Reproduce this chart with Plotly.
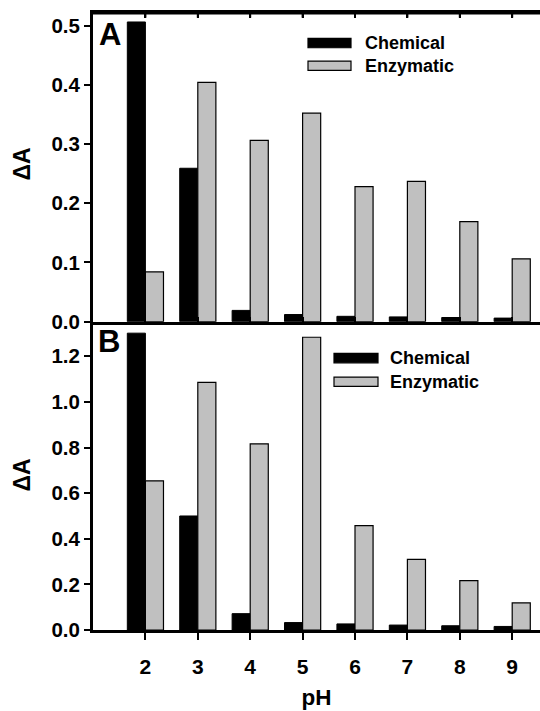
import plotly.graph_objects as go

ph = [2, 3, 4, 5, 6, 7, 8, 9]
a_chemical = [0.506, 0.259, 0.019, 0.012, 0.009, 0.008, 0.007, 0.006]
a_enzymatic = [0.084, 0.404, 0.306, 0.352, 0.228, 0.237, 0.169, 0.106]
b_chemical = [1.301, 0.500, 0.072, 0.033, 0.027, 0.022, 0.019, 0.016]
b_enzymatic = [0.654, 1.085, 0.816, 1.283, 0.458, 0.310, 0.217, 0.119]
a_ticks = [0.0, 0.1, 0.2, 0.3, 0.4, 0.5]
b_ticks = [0.0, 0.2, 0.4, 0.6, 0.8, 1.0, 1.2]

W, H = 540, 711
FONT = "Liberation Sans, Arial, sans-serif"
BLACK = "#000000"
GRAY = "#c0c0c0"

fig = go.Figure()

def add_bars(xa, ya, chem, enz):
    fig.add_trace(go.Bar(x=ph, y=chem, name="Chemical", xaxis=xa, yaxis=ya,
                         marker=dict(color=BLACK, line=dict(color=BLACK, width=1)),
                         showlegend=False, offsetgroup="c"))
    fig.add_trace(go.Bar(x=ph, y=enz, name="Enzymatic", xaxis=xa, yaxis=ya,
                         marker=dict(color=GRAY, line=dict(color=BLACK, width=1.2)),
                         showlegend=False, offsetgroup="e"))

add_bars("x", "y", a_chemical, a_enzymatic)
add_bars("x2", "y2", b_chemical, b_enzymatic)

x0 = 93 / W
xrange = [1, 1 + (W - 93) / 52.4]

def py(px):
    return (H - px) / H

ytickfont = dict(family=FONT, size=20.5, color=BLACK, weight="bold")
xtickfont = dict(family=FONT, size=21, color=BLACK, weight="bold")

common_x = dict(range=xrange, domain=[x0, 1], showgrid=False, zeroline=False,
                showline=True, linecolor=BLACK, linewidth=3, tickvals=ph,
                tickcolor=BLACK, tickwidth=2)
common_y = dict(showgrid=False, zeroline=False, showline=True, linecolor=BLACK,
                linewidth=3, ticks="outside", ticklen=6, tickwidth=2,
                tickcolor=BLACK, tickfont=ytickfont, tickformat=".1f")

fig.update_layout(
    width=W, height=H,
    margin=dict(l=0, r=0, t=0, b=0),
    paper_bgcolor="white", plot_bgcolor="white",
    barmode="group", bargap=0.31, bargroupgap=0,
    xaxis=dict(**common_x, anchor="y", mirror="ticks", ticks="inside", ticklen=5,
               showticklabels=False),
    yaxis=dict(**common_y, domain=[py(326.7), py(13.3)], range=[0, 0.521],
               tickvals=a_ticks, anchor="x"),
    xaxis2=dict(**common_x, anchor="y2", ticks="outside", ticklen=7,
                tickfont=xtickfont, ticklabelstandoff=9,
                title=dict(text="pH", standoff=12,
                           font=dict(family=FONT, size=22.5, color=BLACK, weight="bold"))),
    yaxis2=dict(**common_y, domain=[py(640), py(327.5)], range=[0, 1.348],
                tickvals=b_ticks, anchor="x2"),
)

ann = []
for label, cy in [("ΔA", 167), ("ΔA", 483)]:
    ann.append(dict(text=label, x=22 / W, y=py(cy), xref="paper", yref="paper",
                    showarrow=False, textangle=-90, xanchor="center", yanchor="middle",
                    font=dict(family=FONT, size=23, color=BLACK, weight="bold")))
for label, cx, cy in [("A", 110, 35), ("B", 109, 347)]:
    ann.append(dict(text=label, x=cx / W, y=py(cy), xref="paper", yref="paper",
                    showarrow=False, xanchor="center", yanchor="middle",
                    font=dict(family=FONT, size=31, color=BLACK, weight="bold")))

shapes = []
# top frame line of panel A
shapes.append(dict(type="line", xref="x domain", yref="y domain", x0=-0.003, x1=1,
                   y0=1, y1=1, line=dict(color=BLACK, width=3), layer="above"))
# top inward ticks of panel A
for v in ph:
    shapes.append(dict(type="line", xref="x", yref="y domain", x0=v, x1=v,
                       y0=1, y1=0.985, line=dict(color=BLACK, width=2), layer="above"))

legend_items = [
    (308, 351, 39, 62, 363),
    (334, 378, 359, 383, 388),
]
for sx0, sx1, yc, ye, tx in legend_items:
    for name, color, yt in [("Chemical", BLACK, yc), ("Enzymatic", GRAY, ye)]:
        shapes.append(dict(type="rect", xref="paper", yref="paper",
                           x0=sx0 / W, x1=sx1 / W, y0=py(yt + 9.5), y1=py(yt),
                           fillcolor=color, line=dict(color=BLACK, width=1.2)))
        ann.append(dict(text=name, x=tx / W, y=py(yt + 4.75), xref="paper", yref="paper",
                        showarrow=False, xanchor="left", yanchor="middle",
                        font=dict(family=FONT, size=18, color=BLACK, weight="bold")))

fig.update_layout(annotations=ann, shapes=shapes)
fig.write_html("out.html")
